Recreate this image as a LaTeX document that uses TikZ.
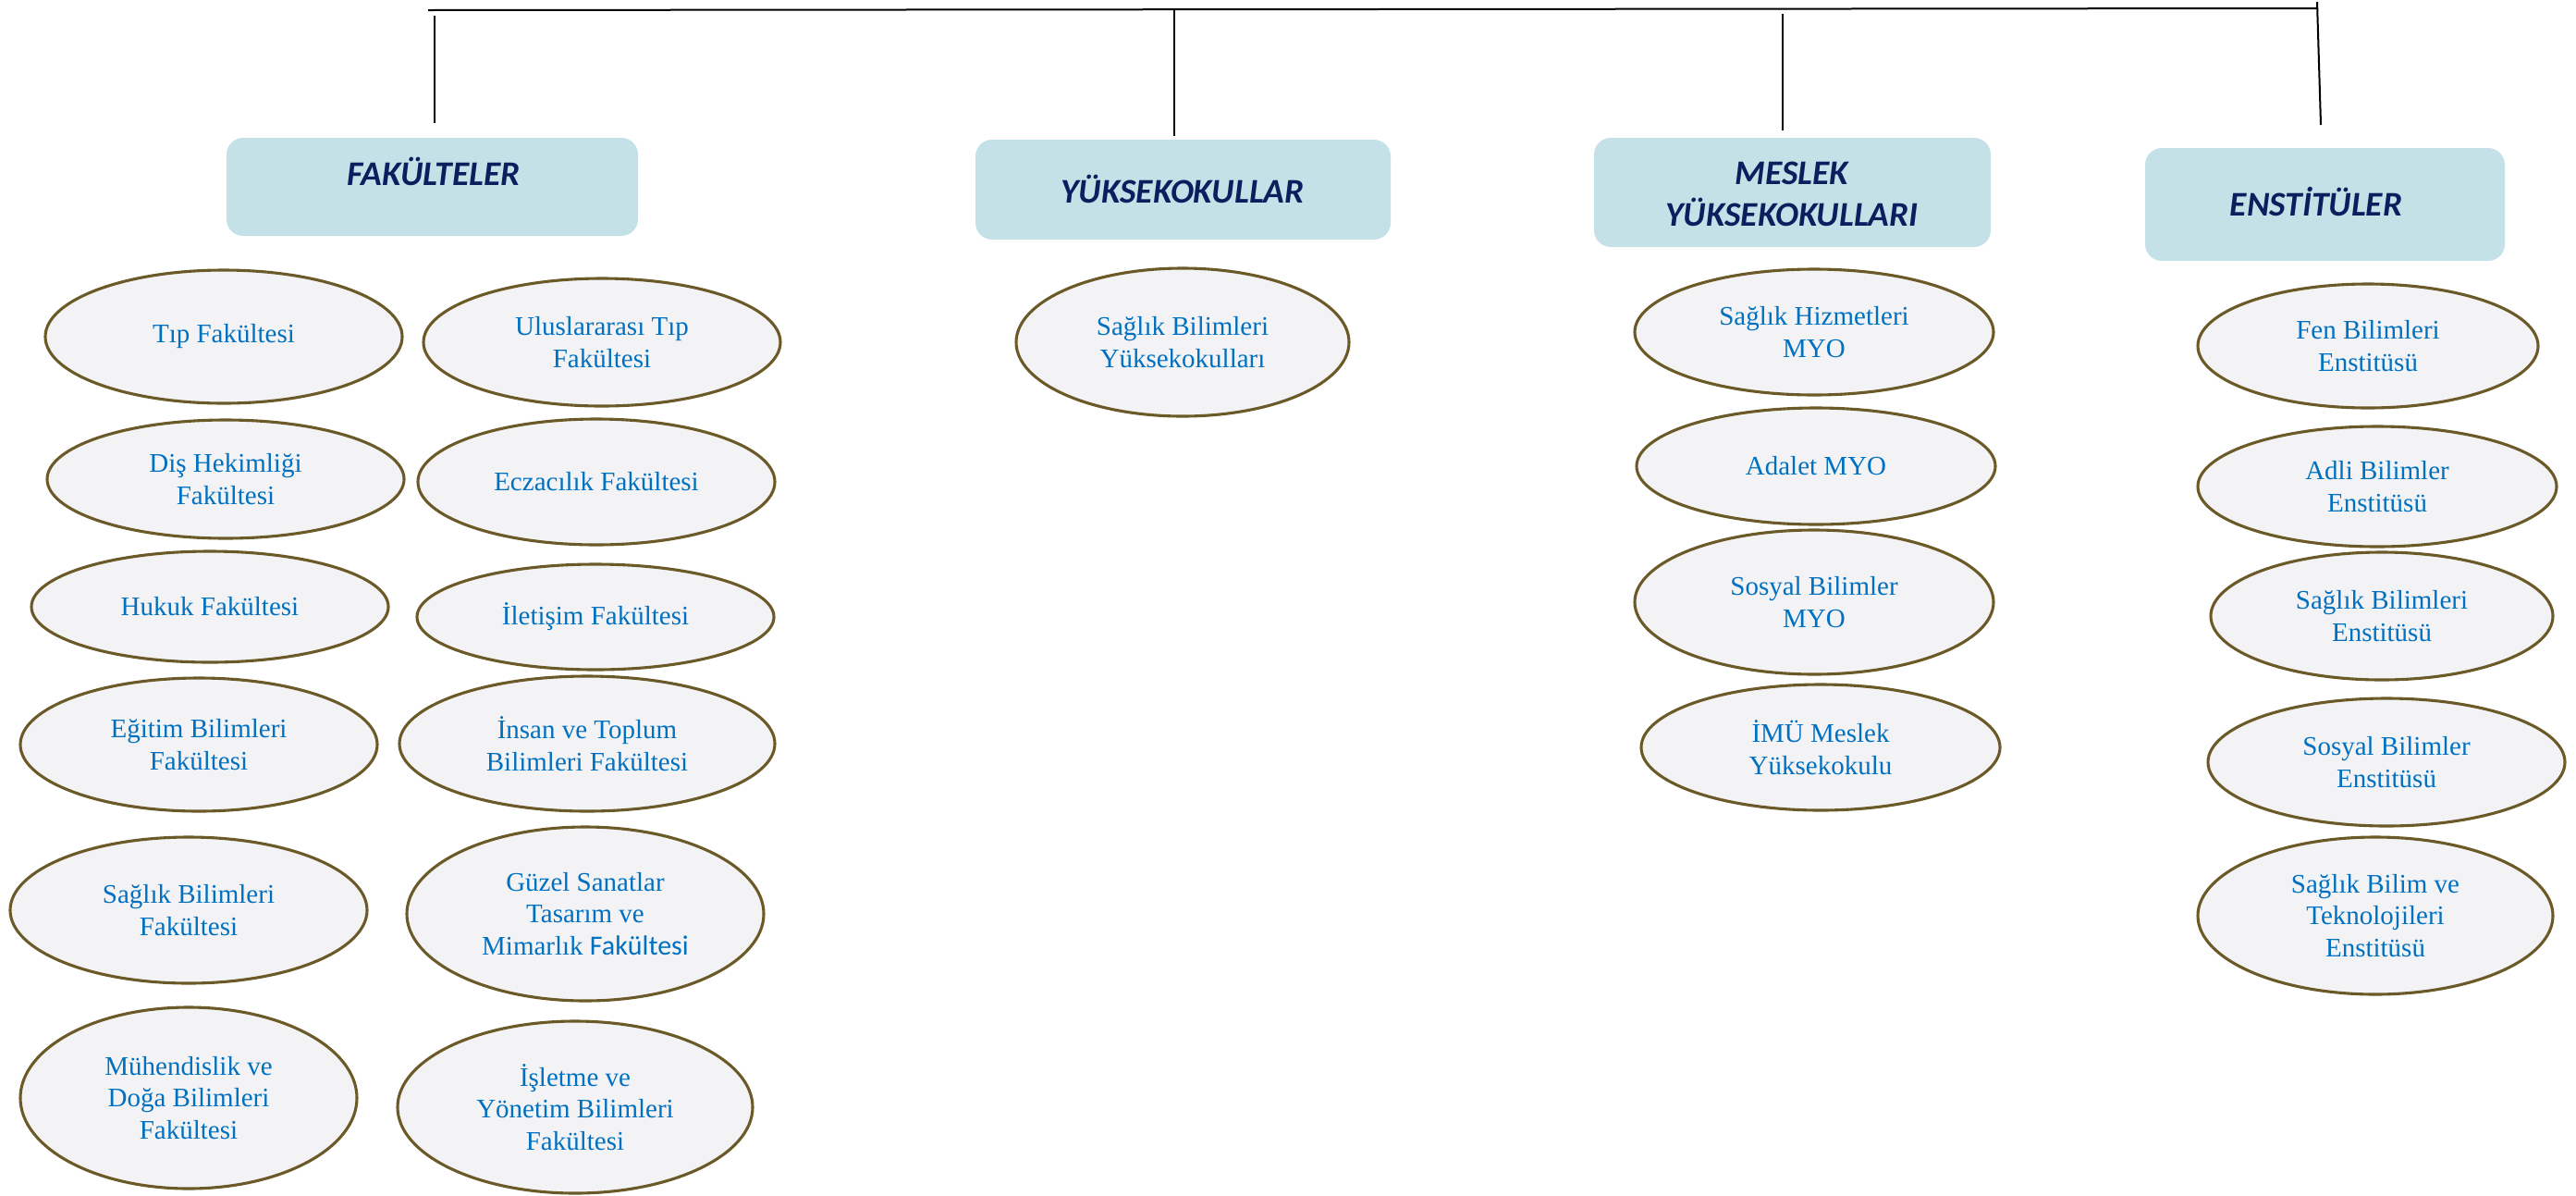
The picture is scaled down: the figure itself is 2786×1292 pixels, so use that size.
\documentclass[tikz,border=0pt]{standalone}
\usepackage{fontspec}
\setmainfont{Liberation Serif}
\newfontfamily\hdrfont{Carlito}
\usetikzlibrary{shapes.geometric}
\definecolor{boxfill}{HTML}{C5E1E8}
\definecolor{hdrtext}{HTML}{0B1F5E}
\definecolor{ellfill}{HTML}{F3F3F6}
\definecolor{elldraw}{HTML}{6B5A28}
\definecolor{elltext}{HTML}{0070C0}
\begin{document}
\begin{tikzpicture}[x=0.5pt,y=-0.5pt,
  unit/.style={ellipse, draw=elldraw, line width=1.55pt, fill=ellfill, text=elltext,
    align=center, inner sep=0pt, font=\fontsize{14.5}{17.3}\selectfont},
  hbox/.style={rectangle, draw=none, fill=boxfill, rounded corners=9pt, inner sep=0pt},
  htext/.style={text=hdrtext, font=\hdrfont\bfseries\itshape\fontsize{18.7}{22.5}\selectfont, align=center},
  link/.style={line width=1pt, black}]
\useasboundingbox (0,0) rectangle (2786,1292);

% connector ends
\coordinate (hl) at (463,11);
\coordinate (hr) at (2507,9);
\coordinate (v1a) at (470,17);   \coordinate (v1b) at (470,133);
\coordinate (v2a) at (1270,11);  \coordinate (v2b) at (1270,147);
\coordinate (v3a) at (1928,15);  \coordinate (v3b) at (1928,141);
\coordinate (v4a) at (2506,2);   \coordinate (v4b) at (2510,135);
\draw[link] (hl) -- (hr);
\draw[link] (v1a) -- (v1b);
\draw[link] (v2a) -- (v2b);
\draw[link] (v3a) -- (v3b);
\draw[link] (v4a) -- (v4b);

% header boxes
\node[hbox, minimum width=222.5pt, minimum height=53pt] (fakbox) at (467.5,202) {};
\node[hbox, minimum width=224.5pt, minimum height=54pt] (yukbox) at (1279.5,205) {};
\node[hbox, minimum width=214.5pt, minimum height=59pt] (mesbox) at (1938.5,208) {};
\node[hbox, minimum width=194.5pt, minimum height=61pt] (ensbox) at (2514.5,221) {};
\node[htext, anchor=base] (faktext) at (469,200) {FAKÜLTELER};
\node[htext, anchor=base] (yuktext) at (1279,219) {YÜKSEKOKULLAR};
\node[htext] (mestext) at (1938,210) {MESLEK\\YÜKSEKOKULLARI};
\node[htext, anchor=base] (enstext) at (2505,233) {ENSTİTÜLER};

% Fakülteler - left column
\node[unit, minimum width=193pt, minimum height=72pt] (tip) at (242,364) {Tıp Fakültesi};
\node[unit, minimum width=193pt, minimum height=64pt] (dis) at (244,518) {Diş Hekimliği\\Fakültesi};
\node[unit, minimum width=193pt, minimum height=60pt] (hukuk) at (227,656) {Hukuk Fakültesi};
\node[unit, minimum width=193pt, minimum height=72pt] (egitim) at (215,805) {Eğitim Bilimleri\\Fakültesi};
\node[unit, minimum width=193pt, minimum height=79pt] (saglikf) at (204,984) {Sağlık Bilimleri\\Fakültesi};
\node[unit, minimum width=182pt, minimum height=98pt] (muh) at (204,1187) {Mühendislik ve\\Doğa Bilimleri\\Fakültesi};
% Fakülteler - right column
\node[unit, minimum width=193pt, minimum height=69pt] (ulus) at (651,370) {Uluslararası Tıp\\Fakültesi};
\node[unit, minimum width=193pt, minimum height=68pt] (ecz) at (645,521) {Eczacılık Fakültesi};
\node[unit, minimum width=193pt, minimum height=57pt] (ilet) at (644,667) {İletişim Fakültesi};
\node[unit, minimum width=203pt, minimum height=73pt] (insan) at (635,804) {İnsan ve Toplum\\Bilimleri Fakültesi};
\node[unit, minimum width=193pt, minimum height=94pt] (guzel) at (633,988) {Güzel Sanatlar\\Tasarım ve\\Mimarlık {\hdrfont\fontsize{15}{17.3}\selectfont Fakültesi}};
\node[unit, minimum width=192pt, minimum height=93pt] (isl) at (622,1197) {İşletme ve\\Yönetim Bilimleri\\Fakültesi};

% Yüksekokullar
\node[unit, minimum width=180pt, minimum height=80pt] (sby) at (1279,370) {Sağlık Bilimleri\\Yüksekokulları};

% Meslek Yüksekokulları
\node[unit, minimum width=194pt, minimum height=68pt] (shm) at (1962,359) {Sağlık Hizmetleri\\MYO};
\node[unit, minimum width=194pt, minimum height=63pt] (adalet) at (1964,504) {Adalet MYO};
\node[unit, minimum width=194pt, minimum height=78pt] (sosmyo) at (1962,651) {Sosyal Bilimler\\MYO};
\node[unit, minimum width=194pt, minimum height=68pt] (imu) at (1969,808) {İMÜ Meslek\\Yüksekokulu};

% Enstitüler
\node[unit, minimum width=184pt, minimum height=67pt] (fen) at (2561,374) {Fen Bilimleri\\Enstitüsü};
\node[unit, minimum width=194pt, minimum height=65pt] (adli) at (2571,526) {Adli Bilimler\\Enstitüsü};
\node[unit, minimum width=185pt, minimum height=69pt] (sbe) at (2576,666) {Sağlık Bilimleri\\Enstitüsü};
\node[unit, minimum width=193pt, minimum height=69pt] (sose) at (2581,824) {Sosyal Bilimler\\Enstitüsü};
\node[unit, minimum width=192pt, minimum height=85pt] (sbte) at (2569,990) {Sağlık Bilim ve\\Teknolojileri\\Enstitüsü};
\end{tikzpicture}
\end{document}
